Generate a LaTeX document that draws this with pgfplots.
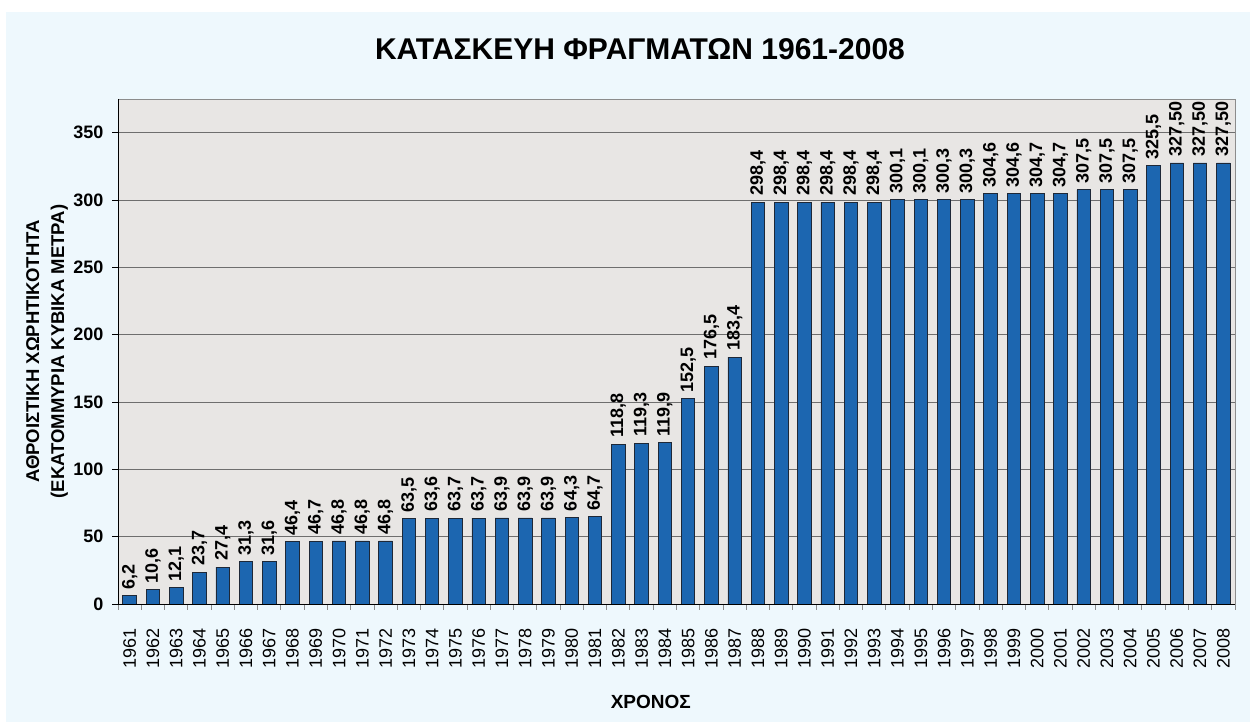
\documentclass[border=0pt]{standalone}
\usepackage{pgfplots}
\usepackage{pgfplotstable}
\pgfplotsset{compat=1.18}
\usepackage{fontspec}
\setmainfont{Liberation Sans}
\definecolor{bgblue}{RGB}{238,248,253}
\definecolor{plotbg}{RGB}{232,230,228}
\definecolor{barblue}{RGB}{28,102,176}
\definecolor{bardark}{RGB}{30,40,55}
\definecolor{gridgray}{RGB}{110,110,110}
\definecolor{framegray}{RGB}{140,140,140}
\pgfplotstableread{
x y lab
0 6.2 6,2
1 10.6 10,6
2 12.1 12,1
3 23.7 23,7
4 27.4 27,4
5 31.3 31,3
6 31.6 31,6
7 46.4 46,4
8 46.7 46,7
9 46.8 46,8
10 46.8 46,8
11 46.8 46,8
12 63.5 63,5
13 63.6 63,6
14 63.7 63,7
15 63.7 63,7
16 63.9 63,9
17 63.9 63,9
18 63.9 63,9
19 64.3 64,3
20 64.7 64,7
21 118.8 118,8
22 119.3 119,3
23 119.9 119,9
24 152.5 152,5
25 176.5 176,5
26 183.4 183,4
27 298.4 298,4
28 298.4 298,4
29 298.4 298,4
30 298.4 298,4
31 298.4 298,4
32 298.4 298,4
33 300.1 300,1
34 300.1 300,1
35 300.3 300,3
36 300.3 300,3
37 304.6 304,6
38 304.6 304,6
39 304.7 304,7
40 304.7 304,7
41 307.5 307,5
42 307.5 307,5
43 307.5 307,5
44 325.5 325,5
45 327.5 327,50
46 327.5 327,50
47 327.5 327,50
}\dams
\begin{document}
\begin{tikzpicture}[x=1pt,y=1pt]
\fill[white] (0,0) rectangle (1250,722);
\fill[bgblue] (6,0) rectangle (1250,710);
\begin{axis}[
  at={(118pt,118pt)}, anchor=south west,
  scale only axis, width=1117pt, height=505pt,
  xmin=-0.5, xmax=47.5, ymin=0, ymax=375,
  axis background/.style={fill=plotbg},
  axis line style={draw=framegray, line width=0.9pt},
  ybar, bar width=13.5pt,
  xtick pos=bottom, ytick pos=left,
  xtick={0,...,47},
  xticklabel={\pgfmathtruncatemacro\yr{1961+\tick}\yr},
  xticklabel style={rotate=90, anchor=east, font=\fontsize{18}{18}\selectfont, inner sep=0pt, xshift=-18pt},
  major x tick style={draw=none},
  minor xtick={-0.5,0.5,...,47.5},
  minor x tick style={draw=framegray, line width=0.9pt},
  minor tick length=6pt,
  ytick={0,50,...,350},
  yticklabels={0,50,100,150,200,250,300,350},
  yticklabel style={font=\bfseries\fontsize{18}{18}\selectfont, xshift=-5pt},
  y tick style={draw=black, line width=0.9pt},
  major tick length=6pt,
  tick align=outside,
  ymajorgrids,
  grid style={draw=gridgray, line width=0.9pt},
  xlabel={ΧΡΟΝΟΣ},
  every axis x label/.style={at={(rel axis cs:0.477,0)}, yshift=-98pt, anchor=center, font=\bfseries\fontsize{19}{19}\selectfont},
  ylabel={ΑΘΡΟΙΣΤΙΚΗ ΧΩΡΗΤΙΚΟΤΗΤΑ\\(ΕΚΑΤΟΜΜΥΡΙΑ ΚΥΒΙΚΑ ΜΕΤΡΑ)},
  every axis y label/.style={at={(rel axis cs:0,0.5)}, xshift=-71pt, rotate=90, anchor=center, align=center, font=\bfseries\fontsize{18.5}{25}\selectfont},
  nodes near coords,
  point meta=explicit symbolic,
  nodes near coords style={rotate=90, anchor=west, font=\bfseries\fontsize{18}{18}\selectfont, inner sep=0pt, xshift=6pt},
  clip=false,
]
\addplot[fill=barblue, draw=bardark, line width=0.8pt] table[x=x, y=y, meta=lab] {\dams};
\draw[black, line width=0.9pt] (rel axis cs:0,1) -- (rel axis cs:0,0) -- (rel axis cs:1,0);
\end{axis}
\node[font=\bfseries\fontsize{30}{30}\selectfont] at (640,673) {ΚΑΤΑΣΚΕΥΗ ΦΡΑΓΜΑΤΩΝ 1961-2008};
\pgfresetboundingbox
\useasboundingbox (0,0) rectangle (1250,722);
\end{tikzpicture}
\end{document}
